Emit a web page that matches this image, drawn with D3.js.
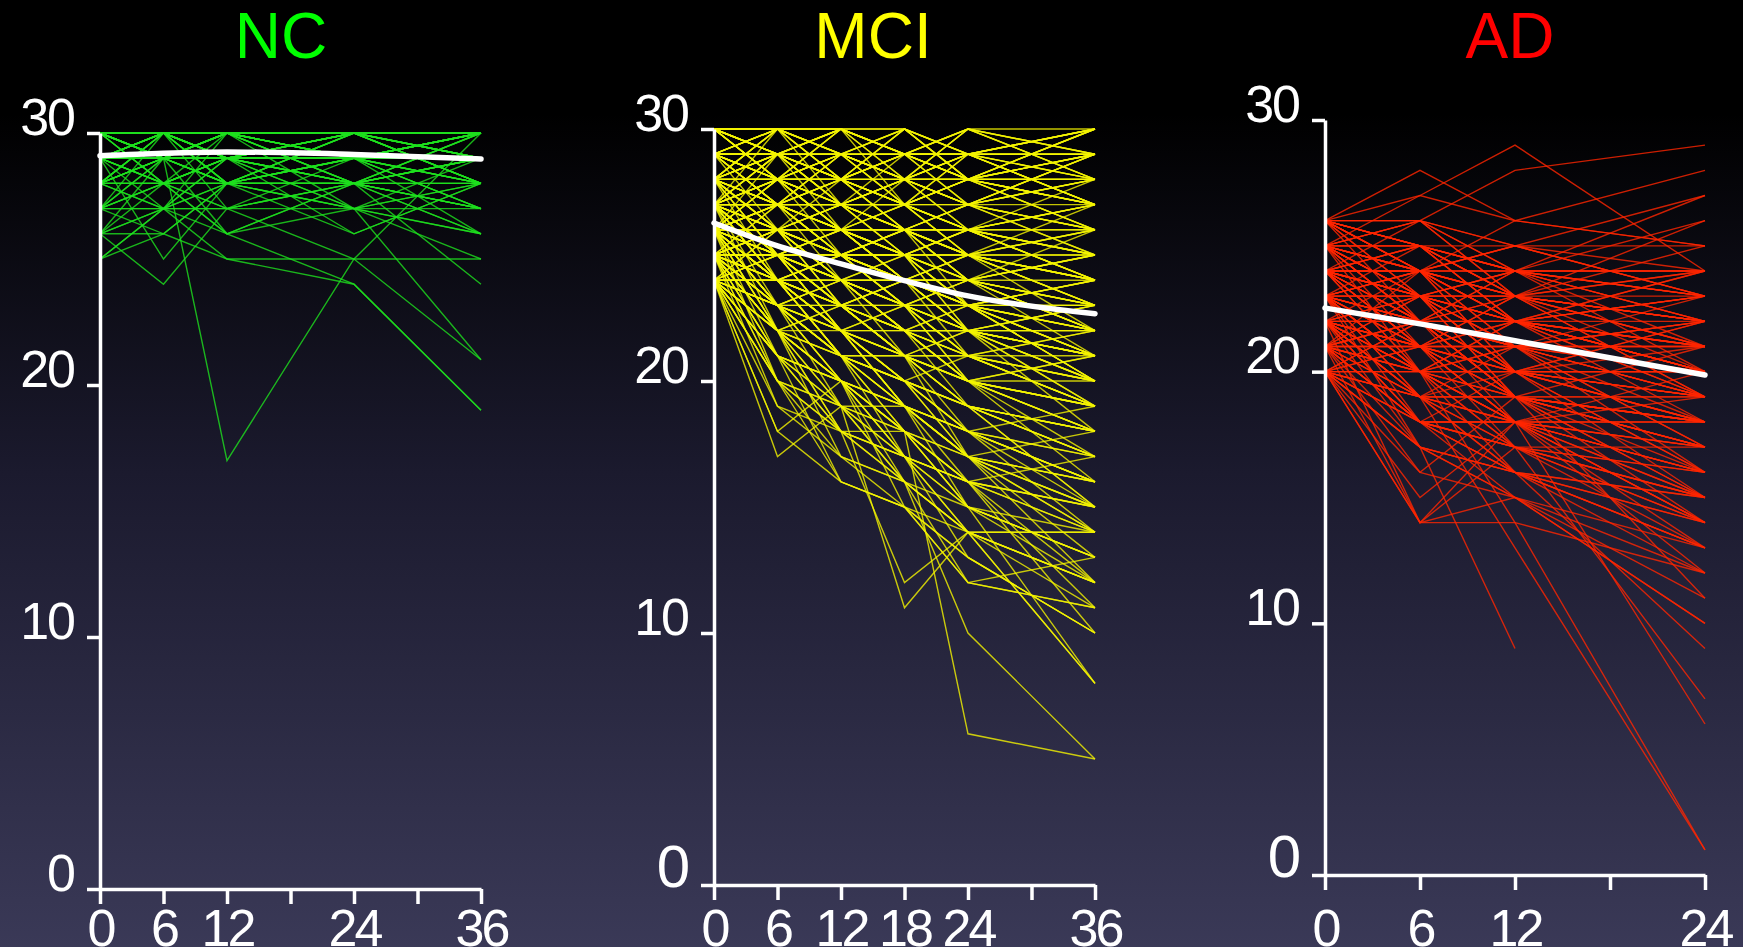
<!DOCTYPE html>
<html>
<head>
<meta charset="utf-8">
<script src="https://cdn.jsdelivr.net/npm/d3@7"></script>
<style>
  html, body { margin: 0; padding: 0; background: #000; }
  svg { display: block; font-family: "Liberation Sans", Arial, Helvetica, sans-serif; }
</style>
</head>
<body>
<div id="chart"></div>
<script>
// visit months per group
const ncVisits = [0, 6, 12, 24, 36];
const mciVisits = [0, 6, 12, 18, 24, 36];
const adVisits = [0, 6, 12, 24];

// mean trajectories (white line)
const ncMean = [29.1, 29.2, 29.25, 29.15, 28.97];
const mciMean = [26.27, 25.36, 24.65, 23.98, 23.38, 22.67];
const adMean = [22.53, 21.9, 21.23, 19.87];

// individual MMSE trajectories, one row per subject
const ncSubjects = [
  [30,30,29,30,30],[30,29,30,30,29],[30,30,30,29,30],[29,30,30,30,30],[29,29,30,29,28],
  [30,29,29,30,30],[29,28,30,29,30],[28,30,29,28,29],[30,30,28,30,29],[29,30,29,29,30],
  [27,29,28,30,28],[29,27,30,28,29],[30,28,29,29,27],[28,29,30,30,30],[26,28,27,29,28],
  [29,30,30,28,26],[30,29,30,27,29],[28,27,29,30,28],[25,27,26,28,27],[29,29,28,29,30],
  [30,30,30,30,28],[27,30,28,29,29],[29,29,17,25,30],[28,27,25,24,19],[28,28,26,24,19],
  [29,28,27,25,21],[27,28,26,27,21],[26,24,27,28,29],[25,27,28,27,28],[30,30,29,29,29],
  [29,29,29,30,29],[30,28,28,28,30],[28,29,28,27,26],[29,30,27,28,28],[27,27,29,29,27],
  [30,30,30,29,29],[29,29,30,30,28],[26,29,28,28,30],[28,28,29,27,27],[30,29,28,30,30],
  [29,30,29,29,27],[27,26,28,27,25],[30,29,30,28,24],[28,30,30,29,29],[26,26,25,25,25],
  [29,28,29,28,28],[30,30,29,30,30],[29,25,28,29,30],[30,29,26,28,29],[28,29,29,26,28],
  [30,30,30,30,30],[29,30,30,29,29],[30,29,29,29,30],[29,29,29,28,29],[28,29,29,29,28],
  [30,30,29,29,28],[29,30,28,29,29],[28,28,28,29,29],[27,28,29,28,29],[30,29,30,30,29],
  [26,27,28,28,27],[29,28,28,30,29],[28,29,30,28,27],[27,29,29,27,28],[30,28,29,30,28],
  [25,26,28,26,28],[29,29,30,29,26],[30,30,28,28,29],[28,30,29,30,28],[27,27,27,28,26],
  [30,30,30,29,30],[29,30,29,30,30],[30,29,30,29,29],[29,29,29,29,30],[30,30,29,30,29],
  [28,29,28,29,29],[29,28,29,29,30],[30,30,30,30,29],[29,30,30,29,28],[28,28,29,28,28],
  [27,28,28,28,27],[26,27,27,27,26],[29,29,28,28,27],[30,29,29,28,30],[28,30,29,29,30]
];

const mciSubjects = [
  [30,29,30,29,30,29],[30,30,29,30,28,30],[29,30,29,28,29,28],[29,28,30,29,27,29],[30,29,28,29,29,27],
  [28,29,29,30,28,29],[29,30,30,29,30,30],[28,28,29,27,28,28],[30,28,29,28,29,30],[29,29,28,29,30,28],
  [28,30,28,28,27,29],[27,29,29,28,29,27],[29,27,28,30,28,29],[30,30,28,29,28,28],[28,29,27,29,29,30],
  [29,28,29,28,26,28],[27,28,30,29,28,29],[28,27,28,28,29,27],[30,29,29,27,28,29],[29,30,27,28,30,28],
  [27,29,28,29,27,29],[28,28,28,30,29,27],[29,29,30,28,28,26],[28,30,29,29,30,29],[27,27,29,28,28,28],
  [30,28,30,30,29,28],[26,28,29,29,28,30],[28,29,28,27,29,27],[29,27,29,29,28,29],[27,28,27,28,30,28],
  [26,29,28,27,27,28],[28,28,29,28,27,29],[29,30,28,30,28,27],[27,29,30,29,29,30],[28,27,27,28,28,26],
  [30,29,27,28,27,28],[26,27,28,29,28,27],[29,28,28,27,29,29],[27,30,29,28,28,30],[28,29,30,27,28,28],
  [27,26,25,26,24,23],[26,25,26,24,25,22],[25,26,24,25,23,24],[28,27,26,25,26,24],[26,27,25,24,23,21],
  [25,24,25,23,24,22],[27,25,26,26,24,25],[24,25,23,24,22,21],[26,24,25,23,23,20],[25,26,26,24,25,23],
  [27,26,24,25,22,23],[24,23,24,22,23,20],[26,25,23,24,22,22],[28,26,27,25,25,24],[25,25,24,23,21,22],
  [27,27,25,26,25,23],[24,24,22,23,21,19],[26,26,25,25,24,25],[25,23,24,22,22,21],[27,25,25,24,23,22],
  [26,27,26,25,26,24],[24,25,24,23,20,21],[25,24,23,24,22,20],[28,27,27,26,24,25],[26,25,24,22,23,21],
  [27,26,26,25,24,26],[24,22,23,21,22,19],[25,26,25,24,23,24],[26,24,23,24,21,20],[27,27,26,24,25,23],
  [25,24,25,25,22,22],[28,26,25,26,25,24],[24,23,22,22,20,18],[26,26,24,23,24,21],[25,25,26,24,23,23],
  [27,25,24,23,24,22],[26,27,25,26,23,24],[24,24,23,21,21,20],[25,23,22,23,20,19],[27,26,25,24,22,21],
  [26,25,26,25,24,23],[28,27,25,25,23,22],[24,25,24,22,22,20],[25,26,23,23,22,21],[27,24,25,24,23,24],
  [26,24,22,20,18,16],[25,22,21,19,17,15],[24,21,20,18,16,14],[27,25,22,21,19,17],[26,23,21,20,17,13],
  [25,22,20,17,15,12],[24,20,19,16,14,11],[26,24,21,19,18,16],[25,21,19,18,16,10],[24,17,19,16,15,13],
  [26,22,18,17,14,12],[25,23,20,19,16,14],[24,22,17,15,12,11],[27,24,21,20,17,15],[25,19,18,17,14,8],
  [24,21,16,15,13,10],[26,23,22,19,17,14],[25,20,18,12,14,14],[24,21,19,11,14,14],[26,22,20,18,6,5],
  [25,21,18,16,10,5],[24,20,17,16,12,11],[26,24,22,19,15,8],[25,23,19,17,16,12],[27,23,21,18,15,13],
  [24,22,20,15,13,10],[26,25,23,21,19,18],[25,22,21,20,19,17],[24,23,21,19,18,16],[26,21,20,19,17,15],
  [25,24,22,20,18,19],[24,18,20,18,17,16],[27,25,23,22,20,18],[26,22,19,18,16,17],[25,20,16,15,12,13],
  [28,26,24,22,21,19],[27,26,23,22,20,20],[29,27,25,23,22,21],[26,25,22,21,20,19],[28,27,26,24,22,18],
  [30,28,27,26,25,25],[29,28,26,25,26,24],[28,29,27,26,25,26],[30,29,28,27,26,26],[29,27,27,26,27,25],
  [27,25,24,22,20,17],[26,24,23,21,19,18],[25,23,22,20,21,19],[24,24,21,20,19,17],[28,25,23,21,20,16],
  [30,30,30,29,29,30],[29,29,29,30,29,29],[30,29,30,28,30,29],[28,30,30,29,28,30],[29,28,28,29,29,30],
  [30,30,29,28,29,29],[27,28,28,27,26,27],[28,27,29,28,27,26],[29,29,27,27,28,27],[26,28,27,28,26,27],
  [27,26,27,27,28,26],[26,27,26,28,27,25],[28,26,28,26,26,27],[27,28,26,27,25,26],[26,26,27,26,27,28],
  [25,27,26,27,26,25],[25,26,27,26,25,27],[24,26,25,26,24,25],[27,27,27,26,26,25],[26,28,28,27,25,26],
  [25,24,24,23,22,23],[24,23,23,22,21,22],[26,25,24,24,23,20],[25,25,23,22,22,19],[27,26,24,24,23,20],
  [24,22,21,21,20,18],[26,24,24,22,21,21],[25,23,23,21,20,19],[27,25,23,23,21,20],[28,26,26,24,22,21],
  [24,24,24,23,22,23],[26,26,26,25,23,22],[25,25,25,24,24,24],[27,27,24,23,23,22],[29,28,27,25,24,23],
  [30,29,27,27,26,25],[29,29,26,26,25,24],[28,28,25,25,24,22],[30,28,26,25,23,23],[29,27,26,24,24,22],
  [26,24,23,21,20,18],[25,23,21,19,18,17],[24,22,20,19,17,16],[27,24,22,20,19,15],[26,23,22,20,18,14],
  [25,21,20,18,15,13],[24,20,18,17,16,15],[26,25,22,21,17,12],[25,22,19,19,17,16],[28,25,22,19,17,14],
  [27,24,23,21,18,16],[24,19,17,16,14,12],[26,23,20,18,17,18],[25,24,21,17,16,15],[24,21,18,18,15,13],
  [27,22,20,17,16,11],[26,20,19,17,13,10],[25,22,20,16,14,8],[24,18,16,15,14,12],[28,24,21,20,18,17],
  [29,29,28,28,27,27],[30,28,28,27,27,26],[28,27,26,27,26,25],[29,28,27,26,26,24],[27,27,26,25,25,24],
  [26,26,25,24,24,22],[28,28,26,26,24,23],[27,26,26,24,23,23],[29,28,28,26,25,24],[26,25,25,23,22,21],
  [25,24,22,21,21,19],[24,23,21,20,19,18],[26,24,22,22,20,19],[25,25,22,20,19,17],[27,25,24,21,19,18],
  [24,22,22,19,18,16],[25,23,21,21,19,15],[26,23,21,18,16,15],[24,21,20,17,15,14],[25,22,18,16,14,12],
  [30,29,29,28,28,27],[29,30,28,28,27,28],[28,28,27,28,28,27],[30,30,30,30,29,29],[29,29,30,29,28,28],
  [27,28,27,26,27,26],[26,27,27,25,26,26],[28,26,27,27,25,25],[25,26,24,24,23,22],[24,25,25,23,22,22],
  [27,24,23,22,21,20],[26,23,24,22,20,21],[25,24,23,21,22,20],[28,25,24,23,21,19],[24,24,22,21,20,19],
  [29,26,25,24,23,21],[27,28,26,25,23,21],[26,26,23,22,22,20],[25,22,23,22,19,18],[24,23,20,19,18,15],
  [30,28,29,27,26,27],[29,27,28,26,27,26],[28,29,28,27,26,25],[27,27,28,26,26,24],[26,28,26,25,25,23],
  [25,27,25,24,24,23],[24,26,24,23,23,21],[28,30,29,29,29,28],[27,29,28,27,28,27],[26,27,26,26,25,24]
];

const adSubjects = [
  [26,28,26,25],[25,27,29,24],[24,26,28,29],[26,27,26,28],[25,26,25,27],[26,25,24,26],[25,24,25,25],
  [24,25,24,24],[23,24,25,23],[22,24,23,22],[21,23,22,21],[20,22,21,20],[26,26,23,23],[25,24,22,22],
  [24,23,21,21],[23,22,20,20],[22,21,19,19],[21,20,18,18],[20,19,17,17],[26,23,22,21],[25,22,21,20],
  [24,21,20,19],[23,20,19,18],[22,19,18,17],[21,18,17,16],[20,17,16,15],[26,25,22,20],[25,24,21,19],
  [24,23,20,18],[23,22,21,17],[22,21,20,16],[21,20,19,15],[20,14,18,14],[21,14,14,12],[20,14,15,13],
  [22,14,17,15],[22,17,9,null],[23,19,13,1],[22,20,14,1],[24,21,18,6],[23,20,17,7],[22,19,16,9],
  [21,18,15,10],[25,22,19,11],[24,21,18,12],[23,20,16,13],[22,18,17,14],[21,17,16,15],[26,24,20,16],
  [25,23,21,17],[24,22,19,18],[23,21,18,19],[22,20,22,20],[21,22,21,21],[20,21,20,22],[26,25,25,23],
  [25,26,24,24],[24,24,26,25],[23,25,23,26],[22,23,24,27],[21,24,22,23],[20,20,21,22],[26,24,24,24],
  [25,25,23,22],[24,24,22,23],[23,23,24,21],[22,22,23,24],[21,21,22,20],[20,20,20,21],[25,23,23,22],
  [24,22,22,21],[23,21,21,22],[22,20,20,19],[21,19,19,18],[20,18,18,17],[26,22,24,20],[25,21,23,19],
  [24,20,22,18],[23,19,21,16],[22,18,20,15],[21,16,19,14],[20,15,18,13],[26,26,25,23],[25,25,22,21],
  [24,22,24,22],[23,24,20,20],[22,21,23,19],[21,23,21,18],[20,22,19,17],[24,23,19,15],[23,22,18,14],
  [26,24,23,22],[25,23,22,23],[24,25,23,20],[23,24,22,19],[22,23,19,18],[21,22,20,19],[20,19,19,18],
  [26,25,23,24],[25,24,24,23],[24,23,22,24],[23,22,23,22],[22,21,21,21],[21,20,21,19],[20,19,20,20],
  [26,23,23,21],[25,22,22,20],[24,21,21,19],[23,20,20,18],[22,19,19,16],[21,18,18,15],[20,18,17,14],
  [26,24,22,19],[25,23,20,18],[24,22,19,17],[23,21,17,16],[22,20,18,14],[21,19,16,13],[20,17,15,12],
  [25,26,23,25],[24,25,22,24],[23,24,21,23],[22,23,20,22],[21,22,19,21],[20,21,18,20],[23,23,22,23],
  [22,22,21,22],[21,21,20,20],[24,24,23,22],[25,24,23,21],[26,25,24,22],[22,18,18,16],[21,18,17,13],
  [24,20,18,16],[23,18,16,12],[20,16,15,11],[25,20,17,15],[23,17,15,10],
  [26,26,24,23],[25,25,24,22],[24,24,23,21],[23,23,22,20],[22,22,20,18],[21,21,19,17],[20,20,18,16],
  [26,24,25,24],[25,23,24,23],[24,23,23,22],[23,22,22,21],[22,21,22,20],[21,20,20,19],[20,19,18,18],
  [25,22,20,19],[24,21,19,18],[23,20,18,17],[22,19,17,15],[21,18,16,14],[20,17,16,13],
  [26,25,24,23],[25,24,22,20],[24,23,21,19],[23,22,19,17],[22,21,18,16],[21,19,18,15],[20,18,16,14],
  [24,22,20,20],[23,21,19,19],[22,20,19,17]
];

const panels = [
  { title: 'NC', color: '#00ff00', line: '#1ee01e', lineOpacity: 0.8, visits: ncVisits, subjects: ncSubjects, mean: ncMean,
    xMax: 36, xLabels: [0, 6, 12, 24, 36], x0: 100, x1: 481, yZero: 889, yTop: 133, titleX: 281, zeroSize: 52 },
  { title: 'MCI', color: '#ffff00', line: '#f4f400', lineOpacity: 0.8, visits: mciVisits, subjects: mciSubjects, mean: mciMean,
    xMax: 36, xLabels: [0, 6, 12, 18, 24, 36], x0: 714, x1: 1095, yZero: 885, yTop: 129, titleX: 873, zeroSize: 60 },
  { title: 'AD', color: '#ff0000', line: '#ff2600', lineOpacity: 0.8, visits: adVisits, subjects: adSubjects, mean: adMean,
    xMax: 24, xLabels: [0, 6, 12, 24], x0: 1325, x1: 1705, yZero: 875, yTop: 120, titleX: 1510, zeroSize: 60 }
];

const W = 1743, H = 947;
const svg = d3.select('#chart').append('svg').attr('width', W).attr('height', H);

// background gradient: black on top fading to slate blue at the bottom
const grad = svg.append('defs').append('linearGradient')
  .attr('id', 'bg').attr('x1', 0).attr('y1', 0).attr('x2', 0).attr('y2', 1);
grad.append('stop').attr('offset', '0%').attr('stop-color', '#000000');
grad.append('stop').attr('offset', '12%').attr('stop-color', '#000000');
grad.append('stop').attr('offset', '50%').attr('stop-color', '#1b1a2e');
grad.append('stop').attr('offset', '100%').attr('stop-color', '#3a3957');
svg.append('rect').attr('width', W).attr('height', H).attr('fill', 'url(#bg)');

panels.forEach(p => {
  const x = d3.scaleLinear().domain([0, p.xMax]).range([p.x0, p.x1]);
  const y = d3.scaleLinear().domain([0, 30]).range([p.yZero, p.yTop]);
  const g = svg.append('g');

  // title
  svg.append('text')
    .attr('x', p.titleX).attr('y', 58)
    .attr('text-anchor', 'middle')
    .attr('font-size', '64px')
    .attr('fill', p.color)
    .text(p.title);

  // spaghetti lines
  const line = d3.line()
    .defined(d => d.v != null)
    .x(d => x(d.t))
    .y(d => y(d.v));

  g.append('g').selectAll('path')
    .data(p.subjects.map(s => s.map((v, i) => ({ t: p.visits[i], v }))))
    .join('path')
    .attr('d', line)
    .attr('fill', 'none')
    .attr('stroke', p.line)
    .attr('stroke-opacity', p.lineOpacity)
    .attr('stroke-width', 1.4);

  // mean curve
  g.append('path')
    .datum(p.mean.map((v, i) => ({ t: p.visits[i], v })))
    .attr('d', d3.line().x(d => x(d.t)).y(d => y(d.v)).curve(d3.curveMonotoneX))
    .attr('fill', 'none')
    .attr('stroke', '#ffffff')
    .attr('stroke-width', 5.5)
    .attr('stroke-linecap', 'round');

  // y axis
  const yAxis = g.append('g')
    .attr('transform', `translate(${p.x0},0)`)
    .call(d3.axisLeft(y).tickValues([0, 10, 20, 30]).tickSize(13).tickPadding(13).tickSizeOuter(0));
  yAxis.selectAll('text')
    .attr('dy', '0')
    .attr('y', 1)
    .attr('letter-spacing', '-2px')
    .attr('font-size', d => d === 0 ? p.zeroSize + 'px' : '52px');

  // x axis
  const xAxis = g.append('g')
    .attr('transform', `translate(0,${p.yZero})`)
    .call(d3.axisBottom(x).tickValues(d3.range(0, p.xMax + 1, 6)).tickSize(15).tickSizeOuter(0)
      .tickFormat(d => p.xLabels.includes(d) ? d : ''));
  xAxis.selectAll('text')
    .attr('dy', '0')
    .attr('y', 946 - p.yZero)
    .attr('letter-spacing', '-3px')
    .attr('font-size', '52px');

  [yAxis, xAxis].forEach(a => {
    a.attr('font-family', null);
    a.select('.domain').attr('stroke', '#ffffff').attr('stroke-width', 3.5);
    a.selectAll('.tick line').attr('stroke', '#ffffff').attr('stroke-width', 3.5);
    a.selectAll('text').attr('fill', '#ffffff');
  });
});
</script>
</body>
</html>
